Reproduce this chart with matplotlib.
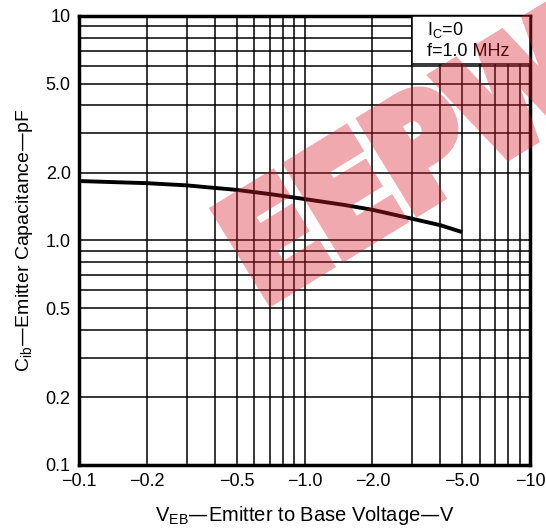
import matplotlib
matplotlib.use("Agg")
import matplotlib.pyplot as plt
from matplotlib.patches import Rectangle, PathPatch
from matplotlib.textpath import TextPath
from matplotlib.font_manager import FontProperties
from matplotlib.transforms import Affine2D

plt.rcParams['font.family'] = ['Liberation Sans', 'DejaVu Sans']
plt.rcParams['mathtext.default'] = 'regular'

# emitter-base reverse voltage (magnitude, V) and capacitance (pF)
veb = [0.1, 0.2, 0.3, 0.5, 0.7, 1.0, 1.5, 2.0, 3.0, 4.0, 5.0]
cib = [1.84, 1.80, 1.76, 1.68, 1.61, 1.53, 1.44, 1.37, 1.25, 1.17, 1.09]

xticks = [0.1, 0.2, 0.5, 1.0, 2.0, 5.0, 10]
xlabels = ['\u22120.1', '\u22120.2', '\u22120.5', '\u22121.0', '\u22122.0', '\u22125.0', '\u221210']
yticks = [0.1, 0.2, 0.5, 1.0, 2.0, 5.0, 10]
ylabels = ['0.1', '0.2', '0.5', '1.0', '2.0', '5.0', '10']

fig = plt.figure(figsize=(5.46, 5.29), dpi=100)
ax = fig.add_axes([0.1447, 0.121, 0.826, 0.8488])

ax.plot(veb, cib, color='black', lw=2.8, solid_capstyle='butt', zorder=4)

ax.set_xscale('log')
ax.set_yscale('log')
ax.set_xlim(0.1, 10)
ax.set_ylim(0.1, 10)
ax.set_xticks(xticks)
ax.set_xticklabels(xlabels, fontsize=13)
ax.set_yticks(yticks)
ax.set_yticklabels(ylabels, fontsize=13)
ax.tick_params(which='both', length=0, pad=6)
ax.grid(True, which='both', color='black', lw=1.1)
ax.set_axisbelow(True)
for s in ax.spines.values():
    s.set_linewidth(2.5)

# condition box in the upper-right corner
ax.add_patch(Rectangle((3.0, 6.1), 7.0, 3.9, facecolor='white',
                       edgecolor='black', lw=1.1, zorder=3))
ax.text(3.5, 8.66, '$I_C$=0', fontsize=13, va='center', zorder=5)
ax.text(3.5, 6.98, 'f=1.0 MHz', fontsize=13, va='center', zorder=5)

ax.set_xlabel('V$_{EB}$\u2014Emitter to Base Voltage\u2014V', fontsize=14.5, labelpad=10)
ax.set_ylabel('C$_{ib}$\u2014Emitter Capacitance\u2014pF', fontsize=14, labelpad=8)


# watermark, drawn opaque and faded as a whole
def fade(img, dpi):
    out = img.copy()
    out[..., 3] *= 0.38
    return out, 0, 0


wm_col = '#d91f2b'
tp = TextPath((0, 0), 'EEPW', size=143,
              prop=FontProperties(family='DejaVu Sans', weight='bold'))
wm_tr = Affine2D().scale(0.88, 1.0).rotate_deg(31.5).translate(262, 224)
wm = PathPatch(tp, transform=wm_tr, facecolor=wm_col, edgecolor=wm_col,
               lw=9, joinstyle='miter', zorder=10)
wm.set_agg_filter(fade)
fig.add_artist(wm)

fig.savefig('out.png', dpi=100)
